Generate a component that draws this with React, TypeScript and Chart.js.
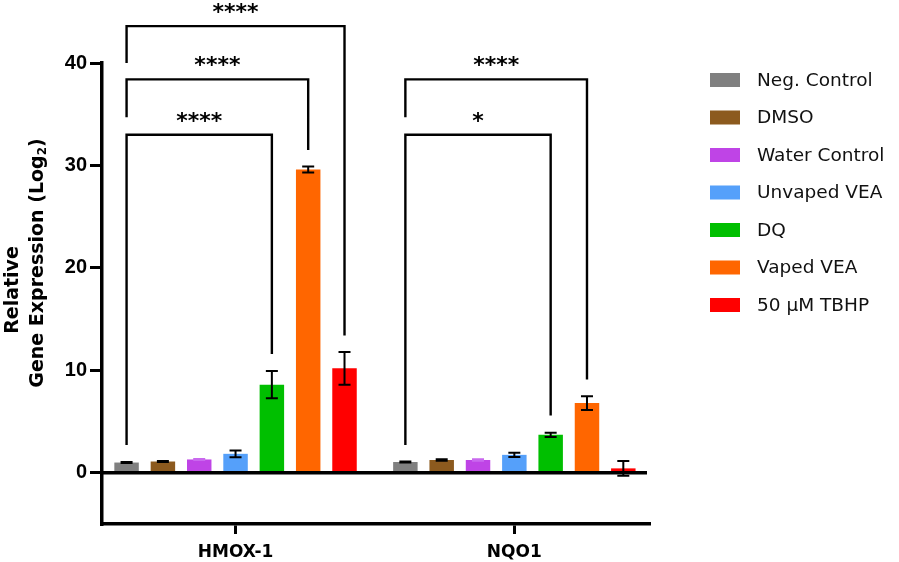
import React, { useEffect, useRef } from 'react';
import { Chart, registerables } from 'chart.js';

Chart.register(...registerables);

const CATEGORIES = ['HMOX-1', 'NQO1'];
const SERIES = ['Neg. Control', 'DMSO', 'Water Control', 'Unvaped VEA', 'DQ', 'Vaped VEA', '50 µM TBHP'];
const COLORS = ['#808080', '#8c5a1e', '#bf44e6', '#55a0fa', '#00bf00', '#ff6600', '#ff0000'];
const ERROR_COLORS = ['#000', '#000', '#c968ee', '#000', '#000', '#000', '#000'];

const HMOX1_VALUES = [1.0, 1.1, 1.3, 1.85, 8.6, 29.6, 10.2];
const HMOX1_ERRORS = [0.05, 0.05, 0.05, 0.33, 1.33, 0.3, 1.6];
const NQO1_VALUES = [1.05, 1.25, 1.25, 1.75, 3.7, 6.8, 0.43];
const NQO1_ERRORS = [0.05, 0.08, 0.08, 0.2, 0.2, 0.66, 0.71];

const VALUES_BY_CAT = [HMOX1_VALUES, NQO1_VALUES];
const ERRORS_BY_CAT = [HMOX1_ERRORS, NQO1_ERRORS];

const Y_TICKS = [0, 10, 20, 30, 40];
const Y_MIN = -5;
const Y_MAX = 40;

// significance brackets: category, from-series, to-series, bracket level, leg ends, label
const BRACKET_CATS = [0, 0, 0, 1, 1];
const BRACKET_FROM = [0, 0, 0, 0, 0];
const BRACKET_TO = [6, 5, 4, 5, 4];
const BRACKET_LEVEL = [43.6, 38.4, 33.0, 38.4, 33.0];
const BRACKET_LEFT_END = [40.0, 34.7, 2.7, 34.7, 2.7];
const BRACKET_RIGHT_END = [13.4, 31.5, 11.6, 9.1, 5.6];
const BRACKET_LABELS = ['****', '****', '****', '****', '*'];

const Y_TITLE_1 = 'Relative';
const Y_TITLE_2 = 'Gene Expression (Log';
const Y_TITLE_SUB = '2';
const Y_TITLE_END = ')';

const FONT = "'DejaVu Sans', 'Liberation Sans', Arial, sans-serif";
const ARIAL = "'Liberation Sans', Arial, sans-serif";

const overlayPlugin = {
  id: 'overlay',
  afterDatasetsDraw(chart: any) {
    const { ctx, chartArea, scales } = chart;
    const y = scales.y;
    ctx.save();
    const y0 = y.getPixelForValue(0);
    ctx.strokeStyle = '#000';
    ctx.lineWidth = 3.5;
    ctx.beginPath();
    ctx.moveTo(chartArea.left, y0);
    ctx.lineTo(chartArea.right - 2, y0);
    ctx.stroke();

    ctx.lineWidth = 2;
    SERIES.forEach((_, d) => {
      const meta = chart.getDatasetMeta(d);
      meta.data.forEach((bar: any, i: number) => {
        const v = VALUES_BY_CAT[i][d];
        const e = ERRORS_BY_CAT[i][d];
        const yt = y.getPixelForValue(v + e);
        const yb = y.getPixelForValue(v - e);
        const cx = bar.x;
        ctx.strokeStyle = ERROR_COLORS[d];
        ctx.beginPath();
        ctx.moveTo(cx, yt);
        ctx.lineTo(cx, yb);
        ctx.moveTo(cx - 6, yt);
        ctx.lineTo(cx + 6, yt);
        ctx.moveTo(cx - 6, yb);
        ctx.lineTo(cx + 6, yb);
        ctx.stroke();
      });
    });
    ctx.restore();
  },
  afterDraw(chart: any) {
    const { ctx, scales } = chart;
    const y = scales.y;
    ctx.save();

    ctx.strokeStyle = '#000';
    ctx.lineWidth = 2.4;
    ctx.fillStyle = '#000';
    ctx.font = `bold 22px ${FONT}`;
    ctx.textAlign = 'center';
    ctx.textBaseline = 'alphabetic';
    BRACKET_LABELS.forEach((label, k) => {
      const cat = BRACKET_CATS[k];
      const x1 = chart.getDatasetMeta(BRACKET_FROM[k]).data[cat].x;
      const x2 = chart.getDatasetMeta(BRACKET_TO[k]).data[cat].x;
      const yl = y.getPixelForValue(BRACKET_LEVEL[k]);
      const ya = y.getPixelForValue(BRACKET_LEFT_END[k]);
      const yb = y.getPixelForValue(BRACKET_RIGHT_END[k]);
      ctx.beginPath();
      ctx.moveTo(x1, ya);
      ctx.lineTo(x1, yl);
      ctx.lineTo(x2, yl);
      ctx.lineTo(x2, yb);
      ctx.stroke();
      ctx.fillText(label, (x1 + x2) / 2, yl - 7);
    });

    ctx.textAlign = 'left';
    ctx.textBaseline = 'middle';
    const bigFont = `bold 19px ${FONT}`;
    const subFont = `bold 12px ${FONT}`;
    ctx.save();
    ctx.translate(13, 290);
    ctx.rotate(-Math.PI / 2);
    ctx.font = bigFont;
    const w1 = ctx.measureText(Y_TITLE_1).width;
    ctx.fillText(Y_TITLE_1, -w1 / 2, 0);
    ctx.restore();

    ctx.save();
    ctx.translate(38, 263);
    ctx.rotate(-Math.PI / 2);
    ctx.font = bigFont;
    const wa = ctx.measureText(Y_TITLE_2).width;
    const wc = ctx.measureText(Y_TITLE_END).width;
    ctx.font = subFont;
    const wb = ctx.measureText(Y_TITLE_SUB).width;
    let sx = -(wa + wb + wc) / 2;
    ctx.font = bigFont;
    ctx.fillText(Y_TITLE_2, sx, 0);
    sx += wa;
    ctx.font = subFont;
    ctx.fillText(Y_TITLE_SUB, sx, 5);
    sx += wb;
    ctx.font = bigFont;
    ctx.fillText(Y_TITLE_END, sx, 0);
    ctx.restore();

    ctx.font = `18.5px ${FONT}`;
    ctx.textBaseline = 'middle';
    ctx.textAlign = 'left';
    SERIES.forEach((name, d) => {
      const cy = 80 + d * 37.5;
      ctx.fillStyle = COLORS[d];
      ctx.fillRect(710, cy - 7, 30, 14);
      ctx.fillStyle = '#111';
      ctx.fillText(name, 757, cy + 1);
    });

    ctx.restore();
  },
};

export default function App() {
  const canvasRef = useRef<HTMLCanvasElement | null>(null);

  useEffect(() => {
    const canvas = canvasRef.current;
    if (!canvas) return;
    const chart = new Chart(canvas, {
      type: 'bar',
      data: {
        datasets: SERIES.map((name, d) => ({
          label: name,
          data: CATEGORIES.map((_, i) => ({ x: i, y: VALUES_BY_CAT[i][d] })),
          backgroundColor: COLORS[d],
          borderWidth: 0,
          categoryPercentage: 0.912,
          barPercentage: 0.674,
        })),
      },
      options: {
        animation: false,
        responsive: false,
        devicePixelRatio: 1,
        layout: { padding: { top: 63, right: 250, left: 0, bottom: 0 } },
        plugins: {
          legend: { display: false },
          tooltip: { enabled: false },
          title: { display: false },
        },
        scales: {
          x: {
            type: 'linear',
            min: -0.479,
            max: 1.483,
            offset: false,
            afterBuildTicks: (axis: any) => {
              axis.ticks = CATEGORIES.map((_, i) => ({ value: i }));
            },
            afterFit: (axis: any) => {
              axis.height = 38;
            },
            ticks: {
              callback: (v: any) => CATEGORIES[v] ?? '',
              color: '#000',
              font: { family: FONT, weight: 'bold', size: 17 },
              padding: 8,
              maxRotation: 0,
              autoSkip: false,
            },
            grid: {
              display: true,
              offset: false,
              drawOnChartArea: false,
              drawTicks: true,
              tickLength: 10,
              lineWidth: 3,
              color: '#000',
            },
            border: { display: true, width: 3.5, color: '#000' },
          },
          y: {
            type: 'linear',
            min: Y_MIN,
            max: Y_MAX,
            afterBuildTicks: (axis: any) => {
              axis.ticks = Y_TICKS.map((v) => ({ value: v }));
            },
            afterFit: (axis: any) => {
              axis.width = 102;
            },
            ticks: {
              color: '#000',
              font: { family: ARIAL, weight: 'bold', size: 20 },
              padding: 3,
            },
            grid: {
              display: true,
              drawOnChartArea: false,
              drawTicks: true,
              tickLength: 12,
              lineWidth: 3,
              color: '#000',
            },
            border: { display: true, width: 3.5, color: '#000' },
          },
        },
      } as any,
      plugins: [overlayPlugin],
    });
    return () => chart.destroy();
  }, []);

  return (
    <div style={{ position: 'fixed', left: 0, top: 0, width: 899, height: 562, background: '#fff' }}>
      <canvas ref={canvasRef} width={899} height={562} style={{ display: 'block' }} />
    </div>
  );
}
